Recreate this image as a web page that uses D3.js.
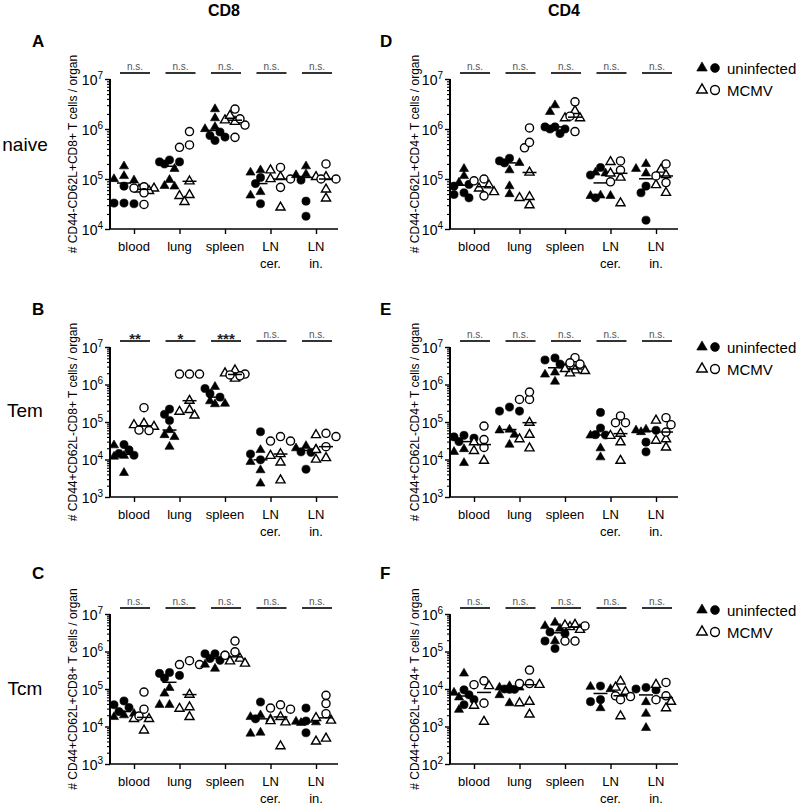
<!DOCTYPE html>
<html><head><meta charset="utf-8">
<script src="https://cdn.jsdelivr.net/npm/d3@7"></script>
<style>body{margin:0;background:#fff}svg{display:block;font-family:"Liberation Sans",Arial,sans-serif}</style>
</head><body><svg id="c" width="798" height="807"></svg>
<script>
// ---------------- DATA ----------------
const categories = ["blood", "lung", "spleen", "LN cer.", "LN in."];
const categoryLines = [["blood"], ["lung"], ["spleen"], ["LN", "cer."], ["LN", "in."]];
const columnTitles = ["CD8", "CD4"];
const rowLabels = ["naive", "Tem", "Tcm"];
const legendLabels = ["uninfected", "MCMV"];

// Panel A: CD44-CD62L+CD8+ (naive CD8)
const A_uninfTri  = [[1.8e5, 1.15e5, 9.4e4, 1.0e5], [1.6e5, 9.6e4, 7.1e4, 7.3e4], [2.5e6, 1.65e6, 1.1e6, 1.0e6], [1.5e5, 1.35e5, 5.5e4, 4.7e4], [1.25e5, 1.8e5, 1.2e5]];
const A_uninfCirc = [[7.2e4, 3.2e4, 3.3e4, 3.3e4], [2.2e5, 2.4e5, 2.0e5, 2.2e5], [8.7e5, 5.9e5, 6.9e5, 7.4e5], [1.07e5, 8.1e4, 3.2e4], [9.5e4, 3.6e4, 1.8e4]];
const A_mcmvTri   = [[6.2e4, 6.5e4, 5.8e4], [9.0e4, 4.8e4, 4.6e4, 3.5e4], [1.5e6, 1.4e6, 1.85e6], [1.0e5, 1.5e5, 1.1e5, 2.7e4], [1.1e5, 1.1e5, 6.2e4, 4.1e4]];
const A_mcmvCirc  = [[7.0e4, 5.3e4, 3.1e4, 6.6e4], [8.9e5, 4.3e5, 4.8e5], [2.5e6, 1.2e6, 6.8e5, 1.6e6], [1.7e5, 6.8e4, 1.0e5], [1.0e5, 1.0e5, 2.0e5]];
const A_sig = ["n.s.", "n.s.", "n.s.", "n.s.", "n.s."];
const A_exponents = [4, 5, 6, 7];

// Panel B: CD44+CD62L-CD8+ (Tem CD8)
const B_uninfTri  = [[2.4e4, 1.26e4, 4.4e3, 1.2e4], [6.1e4, 4.5e4, 4.0e4, 2.2e4], [8.7e5, 3.6e5, 3.0e5, 3.1e5], [1.8e4, 8.7e3, 5.2e3, 2.3e3], [2.0e4, 2.3e4, 1.9e4]];
const B_uninfCirc = [[2.5e4, 1.8e4, 1.45e4, 1.3e4], [2.2e5, 1.1e5, 1.6e5], [7.8e5, 5.7e5, 4.6e5], [5.5e4, 1.4e4, 9.8e3], [1.6e4, 1.55e4, 5.5e3]];
const B_mcmvTri   = [[9.1e4, 8.3e4, 7.5e4], [3.7e5, 2.1e5, 1.9e5, 1.5e5], [2.4e6, 2.0e6, 1.45e6], [1.26e4, 1.4e4, 8.4e3, 2.8e3], [4.5e4, 1.8e4, 1.0e4, 1.1e4]];
const B_mcmvCirc  = [[2.4e5, 6.1e4, 5.9e4], [1.9e6, 1.9e6, 1.9e6], [1.9e6, 1.8e6, 1.7e6], [4.1e4, 3.1e4, 3.1e4], [4.1e4, 5.0e4, 2.2e4]];
const B_sig = ["**", "*", "***", "n.s.", "n.s."];
const B_exponents = [3, 4, 5, 6, 7];

// Panel C: CD44+CD62L+CD8+ (Tcm CD8)
const C_uninfTri  = [[2.2e4, 1.8e4, 2.0e4], [1.07e5, 7.6e4, 3.8e4, 3.8e4], [3.5e5, 4.5e5], [1.6e4, 1.8e4, 6.5e3, 6.9e3, 2.0e4], [1.3e4, 1.35e4, 1.25e4]];
const C_uninfCirc = [[4.8e4, 3.8e4, 2.5e4, 3.2e4], [1.95e5, 2.3e5, 2.6e5, 2.75e5], [8.0e5, 8.7e5, 8.7e5, 5.8e5, 6.5e5], [4.5e4, 1.6e4], [3.1e4, 1.4e4, 6.8e3]];
const C_mcmvTri   = [[1.6e4, 1.6e4, 7.9e3], [7.1e4, 3.3e4, 3.0e4, 1.8e4], [6.5e5, 4.8e5, 5.5e5], [1.3e4, 1.4e4, 1.8e4, 3.0e3], [1.7e4, 1.45e4, 4.0e3, 4.8e3]];
const C_mcmvCirc  = [[8.3e4, 2.9e4, 1.9e4], [5.7e5, 4.5e5, 4.5e5], [1.9e6, 9.8e5, 7.9e5], [3.8e4, 2.9e4, 3.1e4], [6.8e4, 4.1e4, 2.2e4]];
const C_sig = ["n.s.", "n.s.", "n.s.", "n.s.", "n.s."];
const C_exponents = [3, 4, 5, 6, 7];

// Panel D: CD44-CD62L+CD4+ (naive CD4)
const D_uninfTri  = [[1.6e5, 1.15e5, 8.5e4], [1.5e5, 2.1e5, 7.2e4, 5.0e4], [3.0e6, 2.2e6], [1.35e5, 1.3e5, 4.6e4, 4.6e4, 4.7e4], [2.0e5, 1.3e5, 1.6e5]];
const D_uninfCirc = [[7.8e4, 7.2e4, 4.2e4, 4.9e4, 5.3e4], [2.1e5, 2.6e5, 2.3e5], [1.1e6, 1.0e6, 1.1e6, 1.0e6, 8.1e5], [1.7e5, 1.2e5, 4.2e4], [7.2e4, 5.3e4, 1.5e4]];
const D_mcmvTri   = [[6.5e4, 7.5e4, 5.5e4], [1.35e5, 4.4e4, 4.2e4, 3.0e4], [1.65e6, 1.65e6, 2.3e6], [2.2e5, 1.07e5, 1.3e5, 3.3e4], [1.55e5, 1.2e5, 7.6e4, 5.3e4]];
const D_mcmvCirc  = [[1.0e5, 9.2e4, 4.6e4], [1.05e6, 4.2e5, 5.4e5], [3.5e6, 1.8e6, 8.9e5], [2.3e5, 1.5e5, 8.8e4], [2.0e5, 1.15e5, 8.5e4]];
const D_sig = ["n.s.", "n.s.", "n.s.", "n.s.", "n.s."];
const D_exponents = [4, 5, 6, 7];

// Panel E: CD44+CD62L-CD4+ (Tem CD4)
const E_uninfTri  = [[1.9e4, 1.6e4, 8.1e3], [6.3e4, 6.0e4, 4.6e4, 2.5e4], [2.1e6, 1.85e6, 1.2e6], [4.4e4, 2.0e4, 1.15e4], [6.0e4, 5.4e4, 6.3e4]];
const E_uninfCirc = [[3.0e4, 4.0e4, 4.4e4, 3.7e4], [2.5e5, 1.95e5, 1.95e5], [4.5e6, 5.1e6, 3.5e6], [1.8e5, 6.9e4, 4.6e4, 4.5e4], [6.0e4, 2.9e4, 1.6e4]];
const E_mcmvTri   = [[2.9e4, 1.7e4, 9.3e3], [9.6e4, 4.6e4, 3.5e4, 2.0e4], [2.4e6, 2.0e6, 2.3e6, 2.6e6], [4.9e4, 4.3e4, 2.9e4, 9.3e3], [1.1e5, 3.5e4, 3.2e4, 2.1e4]];
const E_mcmvCirc  = [[7.8e4, 3.4e4, 2.1e4], [4.0e5, 4.0e5, 6.3e5], [5.2e6, 3.5e6, 3.8e6], [1.45e5, 9.6e4, 9.6e4], [8.5e4, 1.3e5, 5.4e4]];
const E_sig = ["n.s.", "n.s.", "n.s.", "n.s.", "n.s."];
const E_exponents = [3, 4, 5, 6, 7];

// Panel F: CD44+CD62L+CD4+ (Tcm CD4)
const F_uninfTri  = [[2.6e4, 8.0e3, 6.0e3, 2.8e3], [1.1e4, 1.2e4, 1.1e4, 6.9e3, 4.2e3], [4.8e5, 5.9e5, 4.1e5, 1.9e5], [1.0e4, 1.15e4, 3.1e3], [4.5e3, 2.2e3, 9.2e2]];
const F_uninfCirc = [[5.2e3, 9.5e3, 3.8e3, 7.0e3], [9.8e3, 1.0e4, 9.8e3], [3.3e5, 3.0e5, 1.9e5, 1.2e5], [1.2e4, 5.2e3, 4.6e3], [1.1e4, 9.4e3, 1.0e4]];
const F_mcmvTri   = [[1.2e4, 3.6e3, 1.35e3], [1.3e4, 4.6e3, 4.2e3, 2.1e3], [4.5e5, 5.0e5, 5.2e5, 3.8e5], [1.6e4, 1.1e4, 8.5e3, 1.9e3], [1.3e4, 4.6e3, 3.1e3]];
const F_mcmvCirc  = [[1.65e4, 1.3e4, 4.2e3], [3.2e4, 1.4e4, 1.4e4], [4.8e5, 1.9e5, 1.9e5], [6.6e3, 6.3e3, 5.2e3], [1.5e4, 6.6e3, 5.2e3]];
const F_sig = ["n.s.", "n.s.", "n.s.", "n.s.", "n.s."];
const F_exponents = [2, 3, 4, 5, 6];

// ---------------- LAYOUT ----------------
const svg = d3.select("#c");
const colX = [110, 450];
const rowY = [79, 347, 614];
const plotW = 228, plotH = 150;

const panels = [
  {id: "A", col: 0, row: 0, exps: A_exponents, sig: A_sig, ut: A_uninfTri, uc: A_uninfCirc, mt: A_mcmvTri, mc: A_mcmvCirc, label: "# CD44-CD62L+CD8+ T cells / organ"},
  {id: "B", col: 0, row: 1, exps: B_exponents, sig: B_sig, ut: B_uninfTri, uc: B_uninfCirc, mt: B_mcmvTri, mc: B_mcmvCirc, label: "# CD44+CD62L-CD8+ T cells / organ"},
  {id: "C", col: 0, row: 2, exps: C_exponents, sig: C_sig, ut: C_uninfTri, uc: C_uninfCirc, mt: C_mcmvTri, mc: C_mcmvCirc, label: "# CD44+CD62L+CD8+ T cells / organ"},
  {id: "D", col: 1, row: 0, exps: D_exponents, sig: D_sig, ut: D_uninfTri, uc: D_uninfCirc, mt: D_mcmvTri, mc: D_mcmvCirc, label: "# CD44-CD62L+CD4+ T cells / organ"},
  {id: "E", col: 1, row: 1, exps: E_exponents, sig: E_sig, ut: E_uninfTri, uc: E_uninfCirc, mt: E_mcmvTri, mc: E_mcmvCirc, label: "# CD44+CD62L-CD4+ T cells / organ"},
  {id: "F", col: 1, row: 2, exps: F_exponents, sig: F_sig, ut: F_uninfTri, uc: F_uninfCirc, mt: F_mcmvTri, mc: F_mcmvCirc, label: "# CD44+CD62L+CD4+ T cells / organ"}
];

const letterX = [32, 380];
const letterY = [47, 315, 579];
const rowLabelY = [151, 417, 695];
const legendY = [68, 347, 610];

const triSym = d3.symbol().type(d3.symbolTriangle).size(36);
const cirSym = d3.symbol().type(d3.symbolCircle).size(52);
const triLeg = d3.symbol().type(d3.symbolTriangle).size(48);
const cirLeg = d3.symbol().type(d3.symbolCircle).size(62);

// column titles
columnTitles.forEach((t, i) => {
  svg.append("text").attr("x", colX[i] + plotW / 2).attr("y", 16)
    .attr("text-anchor", "middle").attr("font-weight", "bold").attr("font-size", 16).text(t);
});
// row labels
rowLabels.forEach((t, i) => {
  svg.append("text").attr("x", 25).attr("y", rowLabelY[i])
    .attr("text-anchor", "middle").attr("font-size", 19).text(t);
});

const STEP = 5, MIND = 7;
function swarm(items) {
  const sorted = items.slice().sort((a, b) => a.py - b.py);
  const placed = [];
  const cands = [0, -1, 1, -2, 2];
  sorted.forEach(d => {
    let best = 0, bestScore = -1;
    for (const k of cands) {
      const px = k * STEP;
      let minDist = Infinity;
      for (const q of placed) {
        const dd = Math.hypot(q.px - px, q.py - d.py);
        if (dd < minDist) minDist = dd;
      }
      if (minDist >= MIND) { best = px; break; }
      if (minDist > bestScore) { bestScore = minDist; best = px; }
    }
    d.px = best;
    placed.push(d);
  });
  return items;
}

panels.forEach(p => {
  const ox = colX[p.col], oy = rowY[p.row];
  const g = svg.append("g").attr("transform", `translate(${ox},${oy})`);
  const lo = Math.pow(10, p.exps[0]), hi = Math.pow(10, p.exps[p.exps.length - 1]);
  const y = d3.scaleLog().domain([lo, hi]).range([plotH, 0]);
  const x = d3.scalePoint().domain(categories).range([24, 206]);

  // minor ticks
  const minor = [];
  for (let e = p.exps[0]; e < p.exps[p.exps.length - 1]; e++)
    for (let m = 2; m <= 9; m++) minor.push(m * Math.pow(10, e));
  const minorAx = g.append("g").call(d3.axisLeft(y).tickValues(minor).tickSize(3).tickFormat(""));
  minorAx.select(".domain").remove();
  minorAx.selectAll("line").attr("stroke", "#000").attr("stroke-width", 1.1);
  // major ticks
  const majorAx = g.append("g").call(d3.axisLeft(y).tickValues(p.exps.map(e => Math.pow(10, e))).tickSize(5).tickFormat(""));
  majorAx.select(".domain").remove();
  majorAx.selectAll("line").attr("stroke", "#000").attr("stroke-width", 1.4);
  majorAx.selectAll(".tick").each(function(d) {
    const t = d3.select(this).append("text").attr("x", -7).attr("y", 5)
      .attr("text-anchor", "end").attr("fill", "#000").attr("font-size", 14)
      .attr("font-family", '"Liberation Sans",Arial,sans-serif');
    t.append("tspan").text("10");
    t.append("tspan").attr("dy", -6).attr("font-size", 10).text(Math.round(Math.log10(d)));
  });
  g.append("line").attr("x1", 0).attr("x2", 0).attr("y1", 0).attr("y2", plotH)
    .attr("stroke", "#000").attr("stroke-width", 2);

  // x axis
  const xAx = g.append("g").attr("transform", `translate(0,${plotH})`)
    .call(d3.axisBottom(x).tickSize(5).tickFormat(""));
  xAx.select(".domain").remove();
  xAx.selectAll("line").attr("stroke", "#000").attr("stroke-width", 1.4);
  g.append("line").attr("x1", 0).attr("x2", plotW).attr("y1", plotH).attr("y2", plotH)
    .attr("stroke", "#000").attr("stroke-width", 1.6);
  categories.forEach((c, i) => {
    const t = g.append("text").attr("x", x(c)).attr("y", plotH + 22)
      .attr("text-anchor", "middle").attr("font-size", 13);
    categoryLines[i].forEach((ln, j) => {
      t.append("tspan").attr("x", x(c)).attr("dy", j === 0 ? 0 : 17).text(ln);
    });
  });

  // y label
  g.append("text").attr("transform", `translate(${p.col === 0 ? -33 : -31},${plotH / 2}) rotate(-90)`)
    .attr("text-anchor", "middle").attr("font-size", 12).text(p.label);

  // significance
  categories.forEach((c, i) => {
    const cx = x(c) + 1;
    g.append("line").attr("x1", cx - 15).attr("x2", cx + 15).attr("y1", -6).attr("y2", -6)
      .attr("stroke", "#333").attr("stroke-width", 2);
    const s = p.sig[i];
    if (s === "n.s.") {
      g.append("text").attr("x", cx).attr("y", -9).attr("text-anchor", "middle")
        .attr("font-size", 10).attr("fill", "#555").text(s);
    } else {
      g.append("text").attr("x", cx).attr("y", -3).attr("text-anchor", "middle")
        .attr("font-size", 15).attr("font-weight", "bold").attr("fill", "#222").text(s);
    }
  });

  // points
  categories.forEach((c, i) => {
    const groups = [
      {dx: -10, filled: true, tri: p.ut[i], cir: p.uc[i]},
      {dx: 10, filled: false, tri: p.mt[i], cir: p.mc[i]}
    ];
    groups.forEach(gr => {
      const items = [];
      gr.tri.forEach(v => items.push({v, shape: "t", py: y(v)}));
      gr.cir.forEach(v => items.push({v, shape: "c", py: y(v)}));
      // interleave shapes by value order for drawing
      swarm(items);
      const cx = x(c) + gr.dx;
      const pts = g.append("g");
      items.forEach(d => {
        pts.append("path")
          .attr("d", d.shape === "t" ? triSym() : cirSym())
          .attr("transform", `translate(${cx + d.px},${d.py})`)
          .attr("fill", gr.filled ? "#000" : "#fff")
          .attr("stroke", "#000").attr("stroke-width", gr.filled ? 0.6 : 1.4);
      });
      const med = d3.median(items, d => d.v);
      g.append("line").attr("x1", cx - 7).attr("x2", cx + 7)
        .attr("y1", y(med)).attr("y2", y(med))
        .attr("stroke", "#000").attr("stroke-width", 1.5);
    });
  });

  // panel letter
  svg.append("text").attr("x", letterX[p.col]).attr("y", letterY[p.row])
    .attr("font-size", 17).attr("font-weight", "bold").text(p.id);

  // legend for right column
  if (p.col === 1) {
    const ly = legendY[p.row];
    legendLabels.forEach((lab, k) => {
      const yy = ly + k * 22;
      svg.append("path").attr("d", triLeg()).attr("transform", `translate(702,${yy})`)
        .attr("fill", k === 0 ? "#000" : "#fff").attr("stroke", "#000").attr("stroke-width", k === 0 ? 0.6 : 1.4);
      svg.append("path").attr("d", cirLeg()).attr("transform", `translate(715,${yy})`)
        .attr("fill", k === 0 ? "#000" : "#fff").attr("stroke", "#000").attr("stroke-width", k === 0 ? 0.6 : 1.4);
      svg.append("text").attr("x", 727).attr("y", yy + 5.5).attr("font-size", 15).text(lab);
    });
  }
});
</script>
</body></html>
